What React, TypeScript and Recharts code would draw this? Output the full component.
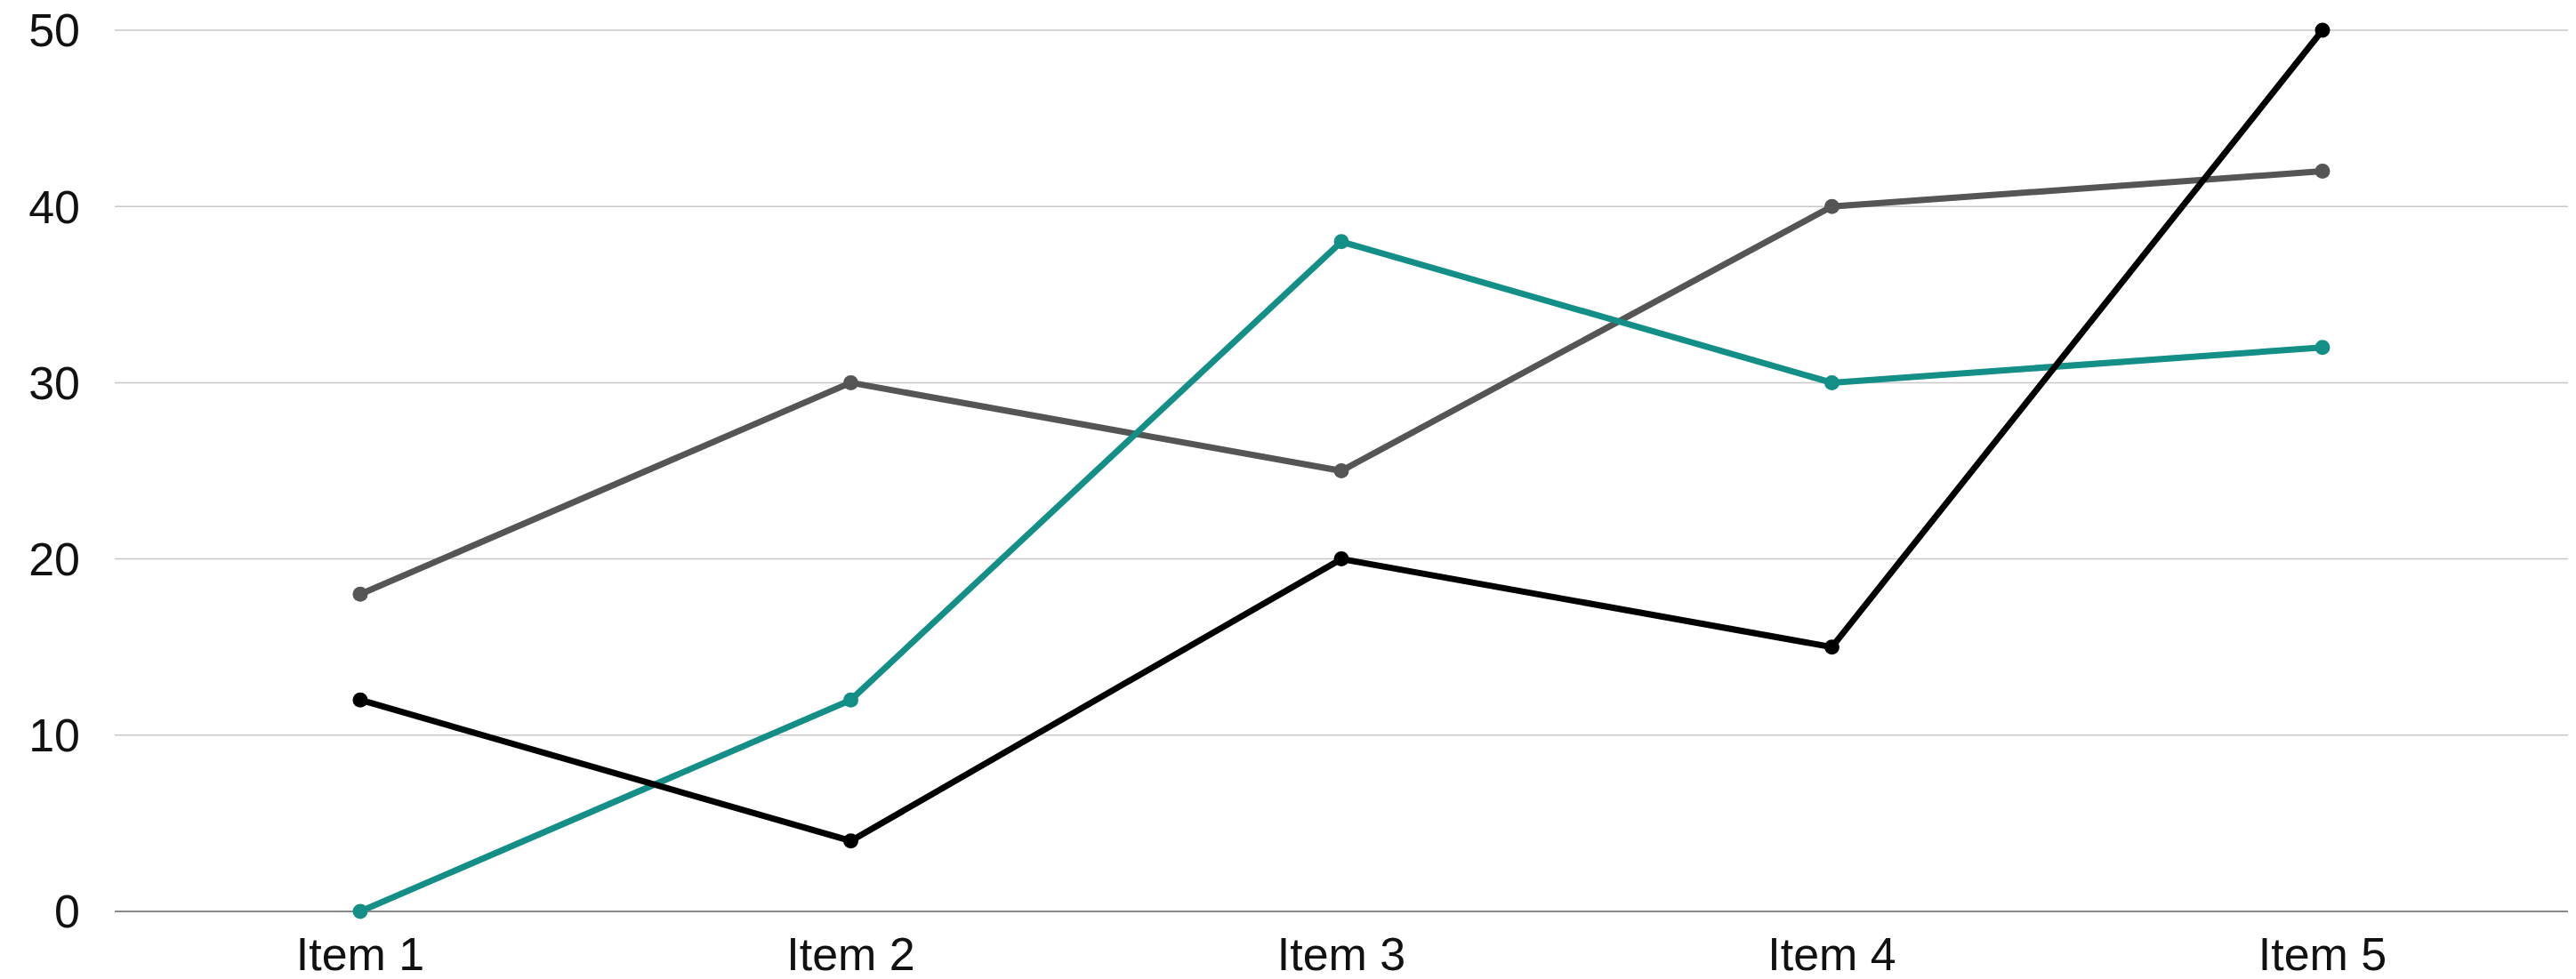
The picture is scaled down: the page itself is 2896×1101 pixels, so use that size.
import React from "react";
import { CartesianGrid, Line, LineChart, XAxis, YAxis } from "recharts";

const categories = ["Item 1", "Item 2", "Item 3", "Item 4", "Item 5"];
const greySeries = [18, 30, 25, 40, 42];
const tealSeries = [0, 12, 38, 30, 32];
const blackSeries = [12, 4, 20, 15, 50];
const yTicks = [0, 10, 20, 30, 40, 50];

const data = categories.map((name, i) => ({
  name,
  grey: greySeries[i],
  teal: tealSeries[i],
  black: blackSeries[i],
}));

const FONT = "'Liberation Sans', Arial, sans-serif";
const tickStyle = { fontSize: 52, fill: "#111", fontFamily: FONT };

// half a category band on each side, so points sit at band centres
const EDGE_PAD = 276;

export default function App() {
  return (
    <div style={{ position: "absolute", left: 0, top: 0, background: "#fff" }}>
      <LineChart
        width={2896}
        height={1101}
        data={data}
        margin={{ top: 34, right: 9, bottom: 0, left: 0 }}
      >
        <CartesianGrid vertical={false} stroke="#c8c8c8" strokeWidth={1.5} />
        <XAxis
          dataKey="name"
          height={76}
          padding={{ left: EDGE_PAD, right: EDGE_PAD }}
          tickLine={false}
          tickSize={0}
          tickMargin={29}
          axisLine={{ stroke: "#888", strokeWidth: 2 }}
          tick={tickStyle}
        />
        <YAxis
          width={129}
          domain={[0, 50]}
          ticks={yTicks}
          axisLine={false}
          tickLine={false}
          tickSize={0}
          tickMargin={39}
          tick={tickStyle}
        />
        {/* drawing order: grey under teal under black */}
        <Line
          dataKey="grey"
          stroke="#555555"
          strokeWidth={7}
          dot={{ r: 8.5, fill: "#555555", stroke: "none" }}
          activeDot={false}
          isAnimationActive={false}
        />
        <Line
          dataKey="teal"
          stroke="#138f87"
          strokeWidth={7}
          dot={{ r: 8.5, fill: "#138f87", stroke: "none" }}
          activeDot={false}
          isAnimationActive={false}
        />
        <Line
          dataKey="black"
          stroke="#000000"
          strokeWidth={7}
          dot={{ r: 8.5, fill: "#000000", stroke: "none" }}
          activeDot={false}
          isAnimationActive={false}
        />
      </LineChart>
    </div>
  );
}
